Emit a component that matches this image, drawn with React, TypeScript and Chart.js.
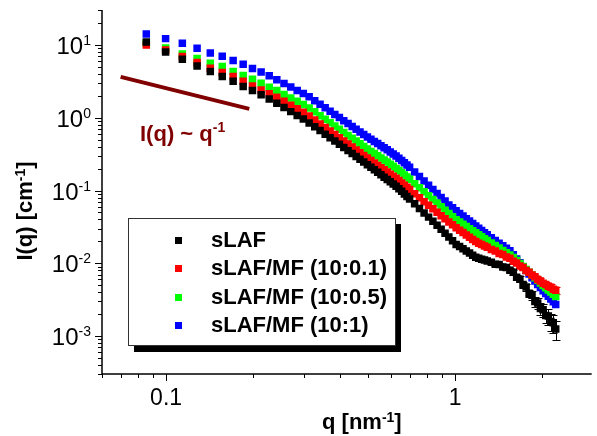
import React, { useEffect, useRef } from "react";
import { Chart, registerables } from "chart.js";

Chart.register(...registerables);

const FONT = '"Liberation Sans", Arial, Helvetica, sans-serif';

// scattering vector q [nm^-1]
const qValues = [
  0.0854, 0.0996, 0.1138, 0.128, 0.1422, 0.1564, 0.1706, 0.1848, 0.199, 0.2132, 0.2274, 0.2416,
  0.2558, 0.27, 0.2842, 0.2984, 0.3126, 0.3268, 0.341, 0.3552, 0.3694, 0.3836, 0.3978, 0.412,
  0.4262, 0.4404, 0.4546, 0.4688, 0.483, 0.4972, 0.5114, 0.5256, 0.5398, 0.554, 0.5682, 0.5824,
  0.5966, 0.6108, 0.625, 0.6392, 0.6534, 0.6676, 0.6818, 0.696,
  0.7244, 0.7528, 0.7812, 0.8096, 0.838, 0.8664, 0.8948, 0.9232, 0.9516, 0.98, 1.0084, 1.0368,
  1.0652, 1.0936, 1.122, 1.1504, 1.1788, 1.2072, 1.2356, 1.264, 1.2924,
  1.335, 1.3776, 1.4202, 1.4628, 1.5054, 1.548, 1.5906, 1.6332, 1.6758, 1.7184, 1.761, 1.8036,
  1.8462, 1.8888, 1.9314, 1.974, 2.0166, 2.0592, 2.1018, 2.1444, 2.187, 2.2296,
];

// I(q) [cm^-1]
const sLAF = [
  11.07, 8.07, 6.4, 5.18, 4.33, 3.69, 3.19, 2.69, 2.37, 2.07, 1.81, 1.59,
  1.39, 1.217, 1.075, 0.96, 0.852, 0.752, 0.667, 0.595, 0.533, 0.479, 0.4325, 0.39, 0.354, 0.322,
  0.294, 0.269, 0.247, 0.227, 0.2084, 0.1925, 0.1778, 0.1648, 0.1528, 0.142, 0.132, 0.1232, 0.1149,
  0.1062, 0.0976, 0.0898, 0.083, 0.0768,
  0.0659, 0.0568, 0.0492, 0.0431, 0.0378, 0.0333, 0.0294, 0.0258, 0.0229, 0.0204, 0.0181, 0.01696,
  0.01582, 0.01471, 0.0138, 0.01292, 0.01213, 0.01171, 0.01138, 0.01107, 0.01075,
  0.01032, 0.0097, 0.00962, 0.00885, 0.00872, 0.00801, 0.00752, 0.0064, 0.00605, 0.0051, 0.00472,
  0.00388, 0.00362, 0.00298, 0.00285, 0.00238, 0.0023, 0.00192, 0.00188, 0.00158, 0.00152, 0.00125,
];

const sLAF_MF_01 = [
  10.06, 8.59, 6.95, 5.75, 4.82, 4.19, 3.69, 3.19, 2.75, 2.42, 2.14, 1.92,
  1.69, 1.495, 1.33, 1.19, 1.062, 0.933, 0.824, 0.736, 0.657, 0.588, 0.531, 0.479, 0.435, 0.396,
  0.361, 0.3305, 0.3034, 0.2795, 0.2583, 0.2394, 0.2219, 0.2063, 0.1925, 0.1795, 0.1675, 0.1567,
  0.1471, 0.1372, 0.1274, 0.1182, 0.1107, 0.1032,
  0.0904, 0.0796, 0.0704, 0.0628, 0.0561, 0.0502, 0.0451, 0.0409, 0.037, 0.0338, 0.0307, 0.0285,
  0.0264, 0.0245, 0.0228, 0.0212, 0.01987, 0.01888, 0.01806, 0.01723, 0.01654,
  0.01552, 0.0148, 0.01365, 0.01318, 0.0122, 0.01168, 0.01065, 0.01005, 0.0092, 0.00872, 0.00795,
  0.0075, 0.0069, 0.00652, 0.006, 0.00572, 0.0053, 0.0051, 0.00482, 0.00468, 0.0044, 0.00425,
];

const sLAF_MF_05 = [
  10.72, 9.15, 7.57, 6.53, 5.64, 5.07, 4.33, 3.81, 3.4, 3.0, 2.64, 2.37,
  2.1, 1.877, 1.685, 1.523, 1.37, 1.209, 1.072, 0.957, 0.856, 0.77, 0.695, 0.63, 0.573, 0.523,
  0.4786, 0.4394, 0.4035, 0.3715, 0.3454, 0.3222, 0.3006, 0.2804, 0.2632, 0.2463, 0.2297, 0.215,
  0.2018, 0.1882, 0.1756, 0.1637, 0.1532, 0.1429,
  0.1244, 0.1093, 0.0963, 0.0851, 0.0754, 0.0673, 0.0599, 0.0536, 0.0483, 0.0437, 0.0397, 0.0369,
  0.0343, 0.032, 0.0299, 0.028, 0.0262, 0.0246, 0.0231, 0.0217, 0.0205,
  0.01894, 0.01756, 0.01622, 0.01504, 0.01393, 0.01296, 0.01202, 0.01089, 0.0099, 0.00901, 0.00823,
  0.00752, 0.00689, 0.00632, 0.00582, 0.00536, 0.00495, 0.00461, 0.00428, 0.00401, 0.00374, 0.0035,
];

const sLAF_MF_1 = [
  14.25, 12.28, 10.62, 9.07, 7.81, 7.04, 6.13, 5.47, 4.76, 4.28, 3.78, 3.33,
  2.96, 2.645, 2.379, 2.157, 1.943, 1.718, 1.532, 1.372, 1.232, 1.113, 1.008, 0.914, 0.834, 0.7605,
  0.697, 0.64, 0.59, 0.544, 0.5068, 0.4726, 0.4419, 0.4137, 0.3885, 0.3645, 0.34, 0.3183, 0.2987,
  0.2786, 0.2591, 0.2409, 0.2254, 0.2089,
  0.1795, 0.1557, 0.135, 0.1179, 0.1032, 0.091, 0.0804, 0.072, 0.0634, 0.0579, 0.0526, 0.0483,
  0.0445, 0.041, 0.038, 0.0351, 0.0325, 0.0303, 0.0282, 0.0263, 0.0247,
  0.0225, 0.0206, 0.01888, 0.01745, 0.01607, 0.01485, 0.01309, 0.01149, 0.01013, 0.00892, 0.00794,
  0.00709, 0.00634, 0.00569, 0.00511, 0.00464, 0.0042, 0.00384, 0.00352, 0.00323, 0.00296, 0.00272,
];

// relative errors of the last (high-q) points
const sLAF_errTail = [
  0.04, 0.04, 0.05, 0.05, 0.06, 0.06, 0.07, 0.08, 0.09, 0.1, 0.11, 0.12, 0.14, 0.15, 0.17, 0.18,
  0.2, 0.22, 0.24, 0.26, 0.28, 0.3,
];
const sLAF_MF_01_errTail = [
  0.02, 0.02, 0.03, 0.03, 0.03, 0.04, 0.04, 0.04, 0.05, 0.05, 0.06, 0.06, 0.07, 0.07, 0.08, 0.08,
  0.09, 0.09, 0.1, 0.1, 0.11, 0.12,
];

const seriesLabels = ["sLAF", "sLAF/MF (10:0.1)", "sLAF/MF (10:0.5)", "sLAF/MF (10:1)"];
const seriesColors = ["#000000", "#ff0000", "#00ff00", "#0000ff"];

// guide line I(q) ~ q^-1
const slopeLineQ = [0.0696, 0.194];
const slopeLineI = [3.66, 1.33];
const slopeColor = "#800000";

// axis labelling
const yTickExponents = [1, 0, -1, -2, -3];
const xTickLabels = [0.1, 1];
const xRange = [0.06, 2.97];
const yRange = [3.04e-4, 30.4];

function drawSup(
  ctx: CanvasRenderingContext2D,
  x: number,
  y: number,
  base: string,
  sup: string,
  tail: string,
  baseFont: string,
  supFont: string,
  rise: number
) {
  ctx.font = baseFont;
  ctx.fillText(base, x, y);
  let cx = x + ctx.measureText(base).width;
  ctx.font = supFont;
  ctx.fillText(sup, cx, y - rise);
  cx += ctx.measureText(sup).width;
  if (tail) {
    ctx.font = baseFont;
    ctx.fillText(tail, cx, y);
    cx += ctx.measureText(tail).width;
  }
  return cx - x;
}

function measureSup(ctx: CanvasRenderingContext2D, base: string, sup: string, tail: string, baseFont: string, supFont: string) {
  ctx.font = baseFont;
  let w = ctx.measureText(base).width + ctx.measureText(tail).width;
  ctx.font = supFont;
  w += ctx.measureText(sup).width;
  return w;
}

const errorBarPlugin = {
  id: "errorBars",
  beforeDatasetsDraw(chart: any) {
    const { ctx, scales } = chart;
    chart.data.datasets.forEach((ds: any) => {
      if (!ds.errTail) return;
      const data = ds.data;
      const off = data.length - ds.errTail.length;
      ctx.save();
      ctx.strokeStyle = ds.backgroundColor;
      ctx.lineWidth = 1;
      ds.errTail.forEach((f: number, k: number) => {
        const p = data[off + k];
        const x = Math.round(scales.x.getPixelForValue(p.x)) + 0.5;
        const yT = scales.y.getPixelForValue(p.y * (1 + f));
        const yB = scales.y.getPixelForValue(p.y * (1 - f));
        ctx.beginPath();
        ctx.moveTo(x, yT);
        ctx.lineTo(x, yB);
        ctx.moveTo(x - 4, Math.round(yT) + 0.5);
        ctx.lineTo(x + 4, Math.round(yT) + 0.5);
        ctx.moveTo(x - 4, Math.round(yB) + 0.5);
        ctx.lineTo(x + 4, Math.round(yB) + 0.5);
        ctx.stroke();
      });
      ctx.restore();
    });
  },
};

const axesPlugin = {
  id: "sciAxes",
  afterDatasetsDraw(chart: any) {
    const { ctx, chartArea: a, scales } = chart;
    const xs = scales.x;
    const ys = scales.y;
    ctx.save();
    ctx.strokeStyle = "#000";
    ctx.lineWidth = 1.5;
    ctx.beginPath();
    ctx.moveTo(a.left, a.top);
    ctx.lineTo(a.left, a.bottom);
    ctx.lineTo(a.right, a.bottom);
    ctx.stroke();

    ctx.lineWidth = 1;
    ctx.beginPath();
    for (let d = -5; d <= 2; d++) {
      for (let m = 1; m <= 9; m++) {
        const v = m * Math.pow(10, d);
        if (v >= ys.min && v <= ys.max) {
          const py = Math.round(ys.getPixelForValue(v)) + 0.5;
          const len = m === 1 ? 7 : 4;
          ctx.moveTo(a.left - len, py);
          ctx.lineTo(a.left, py);
        }
        if (v >= xs.min && v <= xs.max) {
          const px = Math.round(xs.getPixelForValue(v)) + 0.5;
          const len = m === 1 ? 7 : 4;
          ctx.moveTo(px, a.bottom);
          ctx.lineTo(px, a.bottom + len);
        }
      }
    }
    ctx.stroke();

    // tick labels
    ctx.fillStyle = "#000";
    ctx.textBaseline = "alphabetic";
    const baseF = `24px ${FONT}`;
    const supF = `14px ${FONT}`;
    yTickExponents.forEach((e) => {
      const py = ys.getPixelForValue(Math.pow(10, e));
      const label = String(e);
      const w = measureSup(ctx, "10", label, "", baseF, supF);
      ctx.textAlign = "left";
      drawSup(ctx, 91 - w, py + 9, "10", label, "", baseF, supF, 9);
    });
    ctx.font = `23px ${FONT}`;
    ctx.textAlign = "center";
    xTickLabels.forEach((v) => {
      const px = xs.getPixelForValue(v);
      ctx.fillText(String(v), px, 405);
    });

    // axis titles
    const tF = `bold 22px ${FONT}`;
    const tS = `bold 14px ${FONT}`;
    ctx.textAlign = "left";
    drawSup(ctx, 322, 429, "q [nm", "-1", "]", tF, tS, 7);

    const yw = measureSup(ctx, "I(q) [cm", "-1", "]", tF, tS);
    ctx.save();
    ctx.translate(32, 211 + yw / 2);
    ctx.rotate(-Math.PI / 2);
    drawSup(ctx, 0, 0, "I(q) [cm", "-1", "]", tF, tS, 7);
    ctx.restore();

    // guide annotation
    ctx.fillStyle = slopeColor;
    drawSup(ctx, 140, 141, "I(q) ~ q", "-1", "", tF, tS, 9);
    ctx.restore();
  },
};

const legendPlugin = {
  id: "boxLegend",
  afterDatasetsDraw(chart: any) {
    const { ctx } = chart;
    ctx.save();
    ctx.fillStyle = "#000";
    ctx.fillRect(134, 224, 267, 128);
    ctx.fillStyle = "#fff";
    ctx.fillRect(128, 218, 268, 128);
    ctx.strokeStyle = "#333";
    ctx.lineWidth = 1;
    ctx.strokeRect(128.5, 218.5, 267, 127);
    ctx.font = `bold 22px ${FONT}`;
    ctx.textAlign = "left";
    ctx.textBaseline = "middle";
    chart.data.datasets.forEach((ds: any, i: number) => {
      if (!ds.inLegend) return;
      const cy = 240 + i * 28.4;
      ctx.fillStyle = ds.backgroundColor;
      ctx.fillRect(175, Math.round(cy) - 3, 7, 7);
      ctx.fillStyle = "#000";
      ctx.fillText(ds.label, 211, cy + 1);
    });
    ctx.restore();
  },
};

export default function App() {
  const canvasRef = useRef<HTMLCanvasElement | null>(null);

  useEffect(() => {
    const canvas = canvasRef.current;
    if (!canvas) return;
    const series = [sLAF, sLAF_MF_01, sLAF_MF_05, sLAF_MF_1];
    const tails: (number[] | undefined)[] = [sLAF_errTail, sLAF_MF_01_errTail, undefined, undefined];
    const datasets: any[] = series.map((vals, i) => ({
      type: "scatter",
      label: seriesLabels[i],
      data: qValues.map((q, k) => ({ x: q, y: vals[k] })),
      backgroundColor: seriesColors[i],
      borderColor: seriesColors[i],
      pointStyle: "rect",
      pointRadius: 5.3,
      pointHoverRadius: 5.3,
      pointBorderWidth: 0,
      showLine: false,
      errTail: tails[i],
      inLegend: true,
    }));
    datasets.push({
      type: "line",
      label: "I(q) ~ q^-1",
      data: slopeLineQ.map((q, k) => ({ x: q, y: slopeLineI[k] })),
      borderColor: slopeColor,
      backgroundColor: slopeColor,
      borderWidth: 4,
      pointRadius: 0,
      showLine: true,
      fill: false,
      inLegend: false,
    });

    const chart = new Chart(canvas, {
      type: "scatter",
      data: { datasets },
      options: {
        animation: false,
        responsive: false,
        devicePixelRatio: 1,
        events: [],
        layout: { padding: { left: 102, right: 0, top: 10, bottom: 62 } },
        plugins: { legend: { display: false }, tooltip: { enabled: false } },
        scales: {
          x: { type: "logarithmic", min: xRange[0], max: xRange[1], display: false },
          y: { type: "logarithmic", min: yRange[0], max: yRange[1], display: false },
        },
      },
      plugins: [errorBarPlugin, axesPlugin, legendPlugin],
    } as any);
    return () => chart.destroy();
  }, []);

  return (
    <div style={{ position: "absolute", left: 0, top: 0, width: 597, height: 436, background: "#fff" }}>
      <canvas ref={canvasRef} width={597} height={436} style={{ display: "block" }} />
    </div>
  );
}
